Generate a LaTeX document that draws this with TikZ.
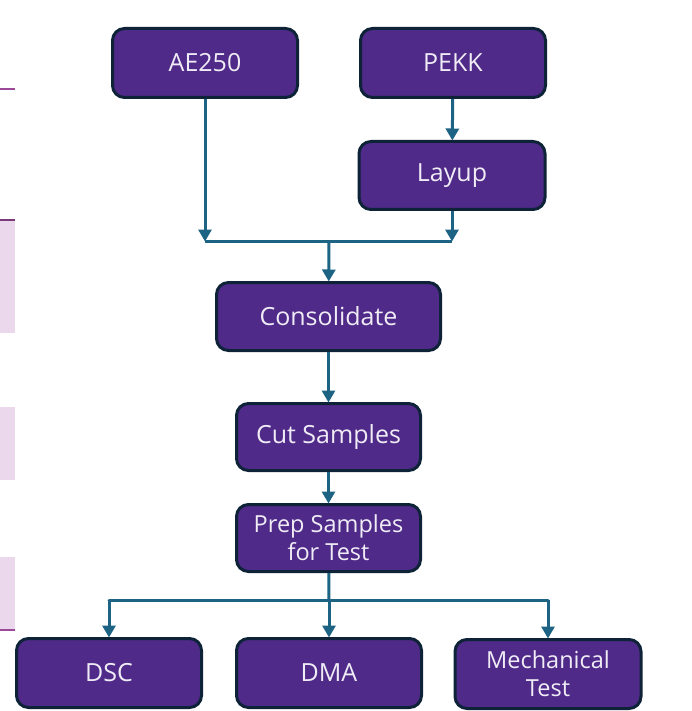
\documentclass[tikz,border=0pt]{standalone}
\usepackage{fontspec}
\setmainfont{Open Sans}
\usetikzlibrary{arrows.meta}
\definecolor{boxfill}{HTML}{4F2A88}
\definecolor{boxline}{HTML}{0E2238}
\definecolor{conncol}{HTML}{1D6383}
\definecolor{pinkfill}{HTML}{ECD8EC}
\definecolor{pinkline}{HTML}{9A4A98}
\definecolor{txtcol}{HTML}{F0ECF6}
\tikzset{
  procbox/.style={draw=boxline, line width=3pt, fill=boxfill, rounded corners=12pt,
    text=txtcol, align=center, inner sep=0pt, font=\fontsize{25}{29}\selectfont},
  smallbox/.style={procbox, font=\fontsize{23.5}{28}\selectfont},
  conn/.style={draw=conncol, line width=3pt},
  arr/.style={conn, -{Triangle[length=12pt,width=13pt]}, shorten >=-0.5pt},
}
\begin{document}
\begin{tikzpicture}[x=1pt,y=-1pt]
\useasboundingbox (0,0) rectangle (691,711);
% left edge decorations
\fill[pinkfill] (0,220) rectangle (15,333);
\fill[pinkfill] (0,407) rectangle (15,480);
\fill[pinkfill] (0,557) rectangle (15,630);
\draw[pinkline, line width=1.2pt] (0,89) -- (15,89);
\draw[pinkline!80!black, line width=2pt] (0,220) -- (15,220);
\draw[pinkline, line width=1.2pt] (0,630) -- (15,630);
% nodes
\node[procbox, minimum width=185pt, minimum height=69pt] (ae) at (205,63) {AE250};
\node[procbox, minimum width=185pt, minimum height=69pt] (pekk) at (453,63) {PEKK};
\node[procbox, minimum width=186pt, minimum height=68pt] (layup) at (452,175.5) {Layup};
\node[procbox, minimum width=224pt, minimum height=68pt] (cons) at (328.5,316.5) {Consolidate};
\node[procbox, minimum width=184pt, minimum height=67pt] (cut) at (328.5,437) {Cut Samples};
\node[smallbox, minimum width=184pt, minimum height=67pt] (prep) at (328.5,538) {Prep Samples\\for Test};
\node[procbox, minimum width=185pt, minimum height=69pt] (dsc) at (109,673) {DSC};
\node[procbox, minimum width=185pt, minimum height=69pt] (dma) at (329,673) {DMA};
\node[smallbox, minimum width=186pt, minimum height=69pt] (mech) at (548,674) {Mechanical\\Test};
% connectors
\coordinate (j1) at (329,241);
\coordinate (j2) at (329,600);
\draw[arr] (pekk) -- (layup);
\draw[arr] (ae) -- (ae |- j1);
\draw[arr] (layup) -- (layup |- j1);
\draw[conn] (ae |- j1) -- (layup |- j1);
\draw[arr] (j1) -- (cons);
\draw[arr] (cons) -- (cut);
\draw[arr] (cut) -- (prep);
\draw[conn] (prep) -- (j2);
\draw[conn, line cap=round] (dsc |- j2) -- (mech |- j2);
\draw[arr] (dsc |- j2) -- (dsc);
\draw[arr] (j2) -- (dma);
\draw[arr] (mech |- j2) -- (mech);
\end{tikzpicture}
\end{document}
